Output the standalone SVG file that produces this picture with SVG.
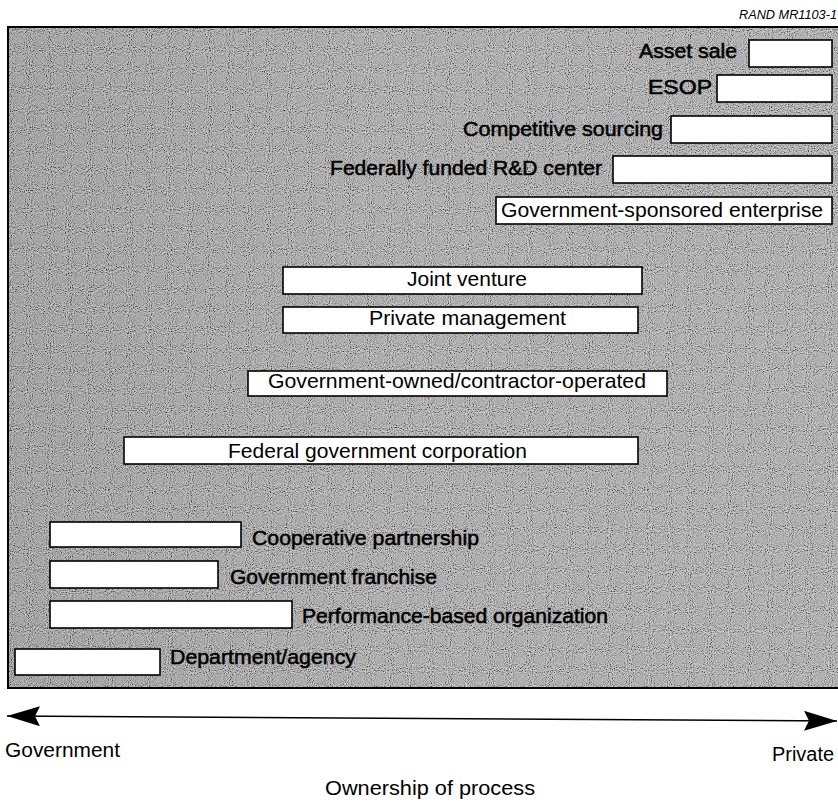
<svg xmlns="http://www.w3.org/2000/svg" width="838" height="805" viewBox="0 0 838 805">
<style>
.box{fill:#fff;stroke:#000;stroke-width:1.6}
.lbl{font-family:"Liberation Sans",Arial,Helvetica,sans-serif;font-size:21px;fill:#000}
.out{stroke:#000;stroke-width:0.55}
.ax{font-family:"Liberation Sans",Arial,Helvetica,sans-serif;font-size:20px;fill:#000}
.axis{stroke:#000;stroke-width:1.6;fill:none}
</style>
<defs>
<linearGradient id="bg" x1="0" y1="0" x2="1" y2="0">
<stop offset="0" stop-color="#8e8e8e"/>
<stop offset="0.45" stop-color="#a2a2a2"/>
<stop offset="1" stop-color="#a6a6a6"/>
</linearGradient>
<filter id="grain" x="0" y="0" width="100%" height="100%">
<feTurbulence type="fractalNoise" baseFrequency="0.95" numOctaves="1" seed="11"/>
<feColorMatrix type="saturate" values="0"/>
<feComponentTransfer>
<feFuncR type="linear" slope="3" intercept="-1"/>
<feFuncG type="linear" slope="3" intercept="-1"/>
<feFuncB type="linear" slope="3" intercept="-1"/>
<feFuncA type="linear" slope="0" intercept="0.5"/>
</feComponentTransfer>
</filter>
<marker id="head" markerUnits="userSpaceOnUse" viewBox="0 0 33 20" markerWidth="33" markerHeight="20" refX="33" refY="10" orient="auto-start-reverse">
<path d="M0,0 L33,10 L0,20 L5,10 Z" fill="#000"/>
</marker>
</defs>

<text x="837" y="19" text-anchor="end" font-family="'Liberation Sans',Arial,sans-serif" font-size="12" font-style="italic" fill="#000" textLength="98" lengthAdjust="spacingAndGlyphs">RAND  MR1103-1</text>

<g id="panel">
<rect x="8" y="27" width="832" height="661" fill="url(#bg)"/>
<rect x="8" y="27" width="832" height="661" fill="#fff" filter="url(#grain)"/>
<path d="M838,27 L8,27 L8,688 L838,688" fill="none" stroke="#000" stroke-width="2"/>
</g>

<g id="asset-sale">
<rect class="box" x="749" y="40" width="83" height="27"/>
<text class="lbl out" x="737" y="58" text-anchor="end" textLength="98" lengthAdjust="spacingAndGlyphs">Asset sale</text>
</g>
<g id="esop">
<rect class="box" x="717" y="75" width="115" height="27"/>
<text class="lbl out" x="712" y="94" text-anchor="end" textLength="64" lengthAdjust="spacingAndGlyphs">ESOP</text>
</g>
<g id="competitive-sourcing">
<rect class="box" x="671" y="116" width="161" height="27"/>
<text class="lbl out" x="463" y="136" textLength="200" lengthAdjust="spacingAndGlyphs">Competitive sourcing</text>
</g>
<g id="ffrdc">
<rect class="box" x="613" y="156" width="219" height="27"/>
<text class="lbl out" x="330" y="175" textLength="272" lengthAdjust="spacingAndGlyphs">Federally funded R&amp;D center</text>
</g>
<g id="gse">
<rect class="box" x="496" y="197" width="336" height="27"/>
<text class="lbl" x="501" y="217" textLength="322" lengthAdjust="spacingAndGlyphs">Government-sponsored enterprise</text>
</g>
<g id="joint-venture">
<rect class="box" x="283" y="267" width="359" height="27"/>
<text class="lbl" x="407" y="286" textLength="120" lengthAdjust="spacingAndGlyphs">Joint venture</text>
</g>
<g id="private-management">
<rect class="box" x="283" y="307" width="355" height="26"/>
<text class="lbl" x="369" y="325" textLength="197" lengthAdjust="spacingAndGlyphs">Private management</text>
</g>
<g id="goco">
<rect class="box" x="248" y="371" width="419" height="25"/>
<text class="lbl" x="268" y="388" textLength="378" lengthAdjust="spacingAndGlyphs">Government-owned/contractor-operated</text>
</g>
<g id="federal-government-corporation">
<rect class="box" x="124" y="437" width="514" height="27"/>
<text class="lbl" x="228" y="458" textLength="299" lengthAdjust="spacingAndGlyphs">Federal government corporation</text>
</g>
<g id="cooperative-partnership">
<rect class="box" x="50" y="522" width="191" height="25"/>
<text class="lbl out" x="252" y="545" textLength="227" lengthAdjust="spacingAndGlyphs">Cooperative partnership</text>
</g>
<g id="government-franchise">
<rect class="box" x="50" y="561" width="168" height="27"/>
<text class="lbl out" x="230" y="584" textLength="207" lengthAdjust="spacingAndGlyphs">Government franchise</text>
</g>
<g id="performance-based-organization">
<rect class="box" x="50" y="601" width="242" height="27"/>
<text class="lbl out" x="302" y="623" textLength="306" lengthAdjust="spacingAndGlyphs">Performance-based organization</text>
</g>
<g id="department-agency">
<rect class="box" x="15" y="649" width="145" height="26"/>
<text class="lbl out" x="170" y="664" textLength="186" lengthAdjust="spacingAndGlyphs">Department/agency</text>
</g>

<g id="connectors">
<line class="axis" x1="7" y1="716" x2="837" y2="721" marker-start="url(#head)" marker-end="url(#head)"/>
</g>

<g id="axis-labels">
<text class="ax" x="5" y="757" textLength="115" lengthAdjust="spacingAndGlyphs">Government</text>
<text class="ax" x="834" y="761" text-anchor="end" textLength="62" lengthAdjust="spacingAndGlyphs">Private</text>
<text class="ax" x="325" y="795" textLength="210" lengthAdjust="spacingAndGlyphs">Ownership of process</text>
</g>
</svg>
